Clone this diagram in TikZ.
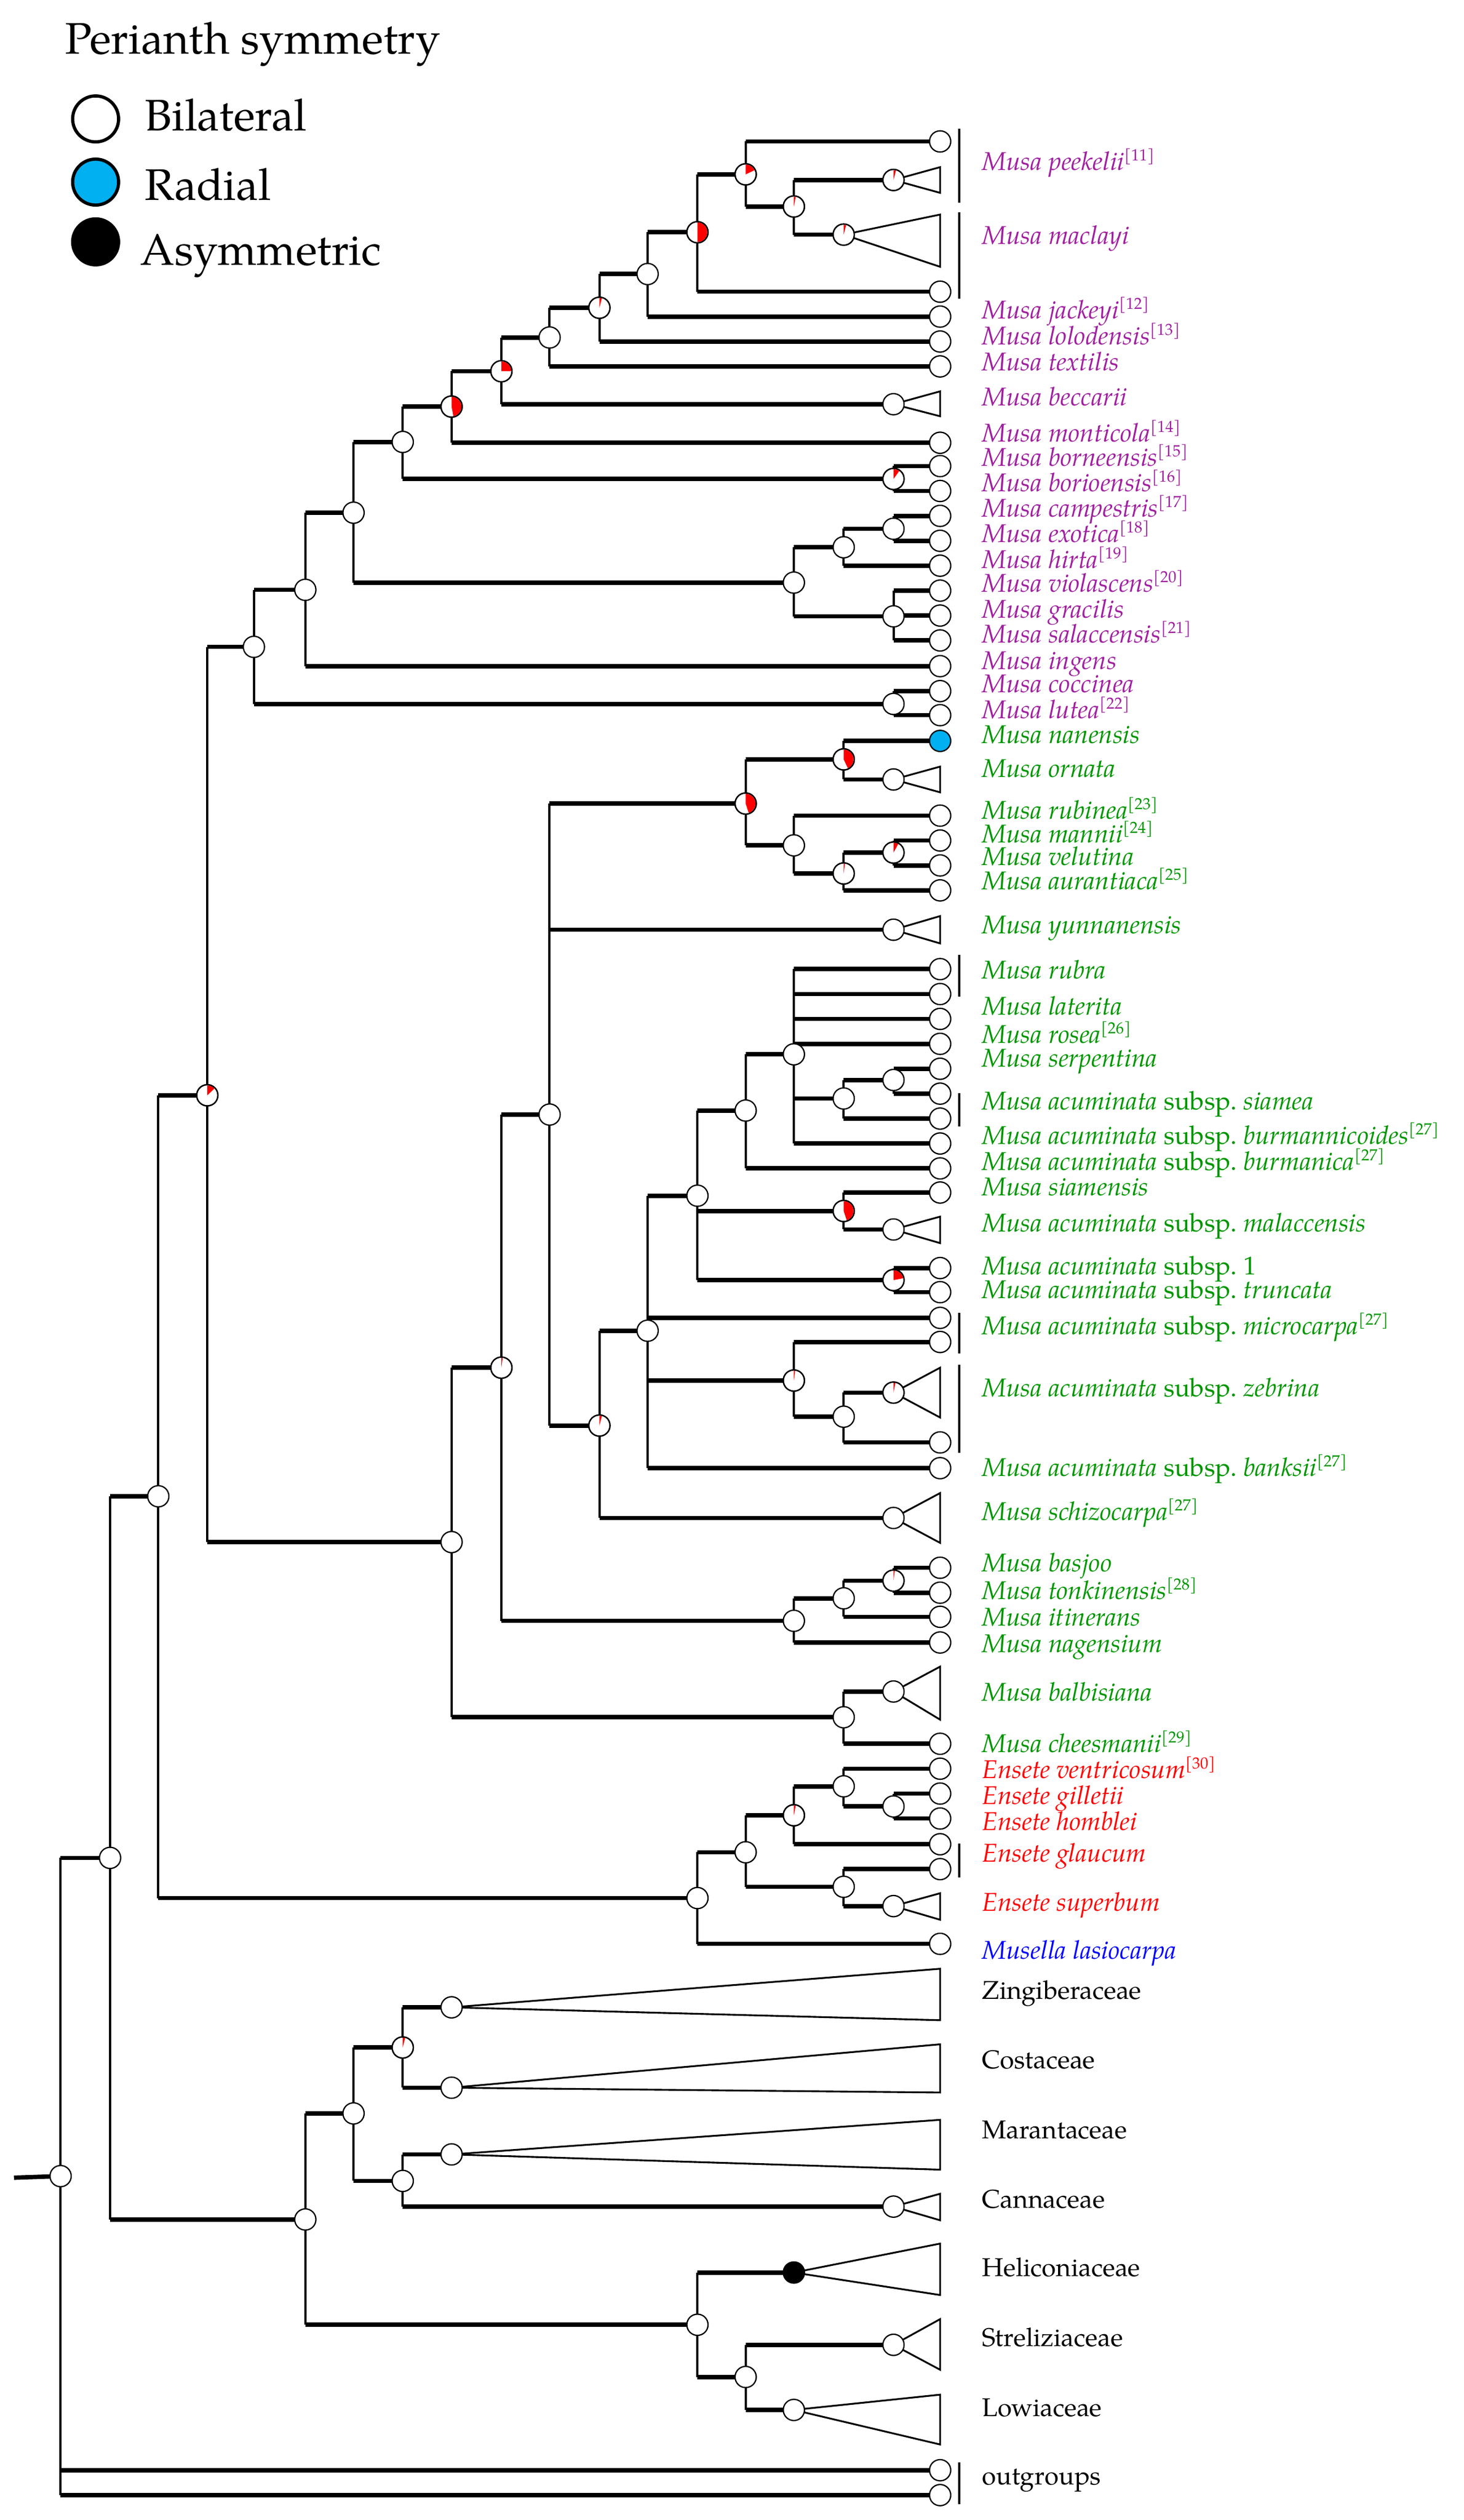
\documentclass[tikz,border=0pt]{standalone}
\usepackage{fontspec}
\setmainfont{TeX Gyre Pagella}
\definecolor{cpurp}{RGB}{160,32,160}
\definecolor{cgreen}{RGB}{0,150,0}
\definecolor{cred}{RGB}{255,0,0}
\definecolor{cblue}{RGB}{0,0,255}
\definecolor{ccyan}{RGB}{0,176,240}
\pgfdeclarelayer{edges}
\pgfsetlayers{edges,main}
\newcommand\labfont{\fontsize{16}{16}\selectfont}
\newcommand\legfont{\fontsize{27.5}{27.5}\selectfont}
\newcommand\MAc{\textit{Musa acuminata} subsp.\ }
\newcommand\srf[1]{\raisebox{6pt}{\fontsize{10}{10}\selectfont[#1]}}
\newcommand\mknode[3]{\node[nd] (#1) at (#2,#3) {};}
\newcommand\mkpie[4]{\node[nd] (#1) at (#2,#3) {};\fill[cred] (#1.center) -- ++(-90:6.1) arc[start angle=-90,end angle={-90+360*#4},radius=6.1] -- cycle;\draw[line width=0.8] (#1.center) circle[radius=6.6];}
\newcommand\mkedge[2]{\draw[vb] (#1.center) -- (#1.center |- #2.center);\draw[hb] (#1.center |- #2.center) -- (#2.center);}
\newcommand\mktri[3]{\coordinate (#1-a) at (585,#2);\coordinate (#1-b) at (585,#3);\draw[trl] (#1.center) -- (#1-a) -- (#1-b) -- cycle;}
\newcommand\mkbrk[3]{\coordinate (#1-t) at (597,#2);\coordinate (#1-u) at (597,#3);\draw[brl] (#1-t) -- (#1-u);}
\tikzset{
 nd/.style={circle,draw=black,line width=0.8,fill=white,minimum size=13.2,inner sep=0},
 hb/.style={line width=2.7},
 vb/.style={line width=1.4},
 trl/.style={line width=1.1,line join=miter},
 brl/.style={line width=1.5},
 lab/.style={anchor=base west,inner sep=0,font=\labfont},
 legc/.style={circle,draw=black,line width=2,minimum size=28.6,inner sep=0},
 legt/.style={anchor=base west,inner sep=0,font=\legfont},
}
\begin{document}
\begin{tikzpicture}[x=1pt,y=-1pt]
\useasboundingbox (0,0) rectangle (911,1568);
% legend
\node[legt] (legtitle) at (40.5,33.4) {Perianth symmetry};
\node[legc,fill=white] (legbi) at (59.5,74) {};
\node[legc,fill=ccyan] (legra) at (59.5,113.3) {};
\node[legc,fill=black] (legas) at (59.5,150.5) {};
\node[legt] (legbit) at (90,81.4) {Bilateral};
\node[legt] (legrat) at (90,124.7) {Radial};
\node[legt] (legast) at (87,165.1) {Asymmetric};
% tips
\mknode{pk1}{585}{88}
\mkpie{pkT}{556}{112}{0.04}
\mkpie{mcT}{525}{146}{0.04}
\mknode{pk4}{585}{181.5}
\mknode{jac}{585}{197}
\mknode{lol}{585}{212.5}
\mknode{tex}{585}{228}
\mknode{becT}{556}{251.5}
\mknode{mon}{585}{275.5}
\mknode{bor}{585}{290}
\mknode{bio}{585}{305.5}
\mknode{cam}{585}{321}
\mknode{exo}{585}{336.5}
\mknode{hir}{585}{352}
\mknode{vio}{585}{367.5}
\mknode{gra}{585}{383}
\mknode{sal}{585}{398.5}
\mknode{ing}{585}{414.5}
\mknode{coc}{585}{430}
\mknode{lut}{585}{445}
\node[nd,fill=ccyan] (nan) at (585,461) {};
\mknode{ornT}{556}{485}
\mknode{rub}{585}{507.5}
\mknode{man}{585}{523}
\mknode{vel}{585}{538.5}
\mknode{aur}{585}{554}
\mknode{yunT}{556}{578.5}
\mknode{ru1}{585}{603}
\mknode{ru2}{585}{618.5}
\mknode{lat}{585}{634}
\mknode{ros}{585}{649.5}
\mknode{ser}{585}{665}
\mknode{sia1}{585}{680.5}
\mknode{sia2}{585}{696}
\mknode{bmc}{585}{711.5}
\mknode{bmn}{585}{727}
\mknode{sms}{585}{742}
\mknode{malT}{556}{765}
\mknode{ss1}{585}{789}
\mknode{tru}{585}{804}
\mknode{mic1}{585}{820}
\mknode{mic2}{585}{835}
\mkpie{zebT}{556}{866.5}{0.03}
\mknode{zeb2}{585}{897.5}
\mknode{ban}{585}{913.5}
\mknode{schT}{556}{944.5}
\mknode{bas}{585}{975.5}
\mknode{ton}{585}{991}
\mknode{iti}{585}{1006}
\mknode{nag}{585}{1022}
\mknode{balT}{556}{1052.5}
\mknode{che}{585}{1085}
\mknode{ven}{585}{1100.5}
\mknode{gil}{585}{1116}
\mknode{hom}{585}{1131.5}
\mknode{gl1}{585}{1147.5}
\mknode{gl2}{585}{1163}
\mknode{supT}{556}{1186}
\mknode{mus}{585}{1209.5}
\mknode{zinT}{281}{1249}
\mknode{cosT}{281}{1299}
\mknode{marT}{281}{1340.5}
\mknode{canT}{556}{1373}
\node[nd,fill=black] (helT) at (494,1414) {};
\mknode{strT}{556}{1459}
\mknode{lowT}{494}{1499.5}
\mknode{og1}{585}{1537}
\mknode{og2}{585}{1552.5}
% internal nodes
\mkpie{A1}{464}{108.5}{0.18}
\mkpie{A2}{494}{128.5}{0.03}
\mkpie{A3}{434}{144.5}{0.5}
\mknode{A4}{403}{170.5}
\mkpie{A5}{373}{191.5}{0.04}
\mknode{A6}{342}{210}
\mkpie{A7}{312}{231}{0.25}
\mkpie{A8}{281}{253}{0.47}
\mknode{A9}{250.6}{275}
\mkpie{B1}{556}{298}{0.1}
\mknode{A10}{220}{319}
\mknode{C1}{494}{362.5}
\mknode{C2}{525}{340.5}
\mknode{C3}{556}{329}
\mknode{C4}{556}{383.5}
\mknode{A11}{190}{367}
\mknode{A12}{158}{402.5}
\mknode{D1}{556}{438}
\mkpie{E1}{525}{472.5}{0.43}
\mkpie{E2}{464}{500}{0.45}
\mknode{E3}{494}{526}
\mkpie{E4}{525}{543.5}{0.02}
\mkpie{E5}{556}{530.5}{0.08}
\mknode{F1}{494}{656}
\mknode{F2}{525}{683.5}
\mknode{F3}{556}{672}
\mknode{F4}{464}{691}
\mkpie{F5}{525}{753.5}{0.45}
\mkpie{F6}{556}{796.5}{0.22}
\mknode{F7}{434}{744}
\mknode{G1}{403}{828}
\mkpie{G2}{494}{859}{0.02}
\mknode{G3}{525}{881.5}
\mkpie{H1}{373}{887}{0.04}
\mknode{H2}{342}{693.5}
\mkpie{I1}{556}{983.5}{0.02}
\mknode{I2}{525}{994.5}
\mknode{I3}{494}{1008.5}
\mkpie{H3}{312}{851}{0.02}
\mknode{J1}{525}{1068.5}
\mknode{H4}{281}{959.5}
\mkpie{K1}{129}{681.5}{0.13}
\mknode{L1}{556}{1124}
\mknode{L2}{525}{1111.5}
\mkpie{L3}{494}{1129.5}{0.03}
\mknode{L4}{525}{1174}
\mknode{L5}{464}{1152.5}
\mknode{L6}{434}{1181}
\mknode{M1}{98.5}{931}
\mkpie{N1}{250.6}{1274}{0.04}
\mknode{N2}{250.6}{1357}
\mknode{N3}{220}{1315}
\mknode{N4}{464}{1479}
\mknode{N5}{434}{1446.5}
\mknode{N6}{190}{1381}
\mknode{O1}{68.5}{1156}
\mknode{R}{37.7}{1354}
\coordinate (stub) at (8.7,1355);
% edges, triangles, brackets
\begin{pgfonlayer}{edges}
\draw[hb] (stub) -- (R.center);
\mkedge{A1}{pk1}\mkedge{A1}{A2}\mkedge{A2}{pkT}\mkedge{A2}{mcT}
\mkedge{A3}{A1}\mkedge{A3}{pk4}\mkedge{A4}{A3}\mkedge{A4}{jac}
\mkedge{A5}{A4}\mkedge{A5}{lol}\mkedge{A6}{A5}\mkedge{A6}{tex}
\mkedge{A7}{A6}\mkedge{A7}{becT}\mkedge{A8}{A7}\mkedge{A8}{mon}
\mkedge{A9}{A8}\mkedge{A9}{B1}\mkedge{B1}{bor}\mkedge{B1}{bio}
\mkedge{A10}{A9}\mkedge{A10}{C1}\mkedge{C1}{C2}\mkedge{C1}{C4}
\mkedge{C2}{C3}\mkedge{C2}{hir}\mkedge{C3}{cam}\mkedge{C3}{exo}
\mkedge{C4}{vio}\mkedge{C4}{gra}\mkedge{C4}{sal}
\mkedge{A11}{A10}\mkedge{A11}{ing}\mkedge{A12}{A11}\mkedge{A12}{D1}
\mkedge{D1}{coc}\mkedge{D1}{lut}
\mkedge{E1}{nan}\mkedge{E1}{ornT}\mkedge{E2}{E1}\mkedge{E2}{E3}
\mkedge{E3}{rub}\mkedge{E3}{E4}\mkedge{E4}{E5}\mkedge{E4}{aur}
\mkedge{E5}{man}\mkedge{E5}{vel}
\mkedge{F1}{ru1}\mkedge{F1}{ru2}\mkedge{F1}{lat}\mkedge{F1}{ros}\mkedge{F1}{F2}\mkedge{F1}{bmc}
\mkedge{F2}{F3}\mkedge{F2}{sia2}\mkedge{F3}{ser}\mkedge{F3}{sia1}
\mkedge{F4}{F1}\mkedge{F4}{bmn}\mkedge{F5}{sms}\mkedge{F5}{malT}
\mkedge{F6}{ss1}\mkedge{F6}{tru}
\mkedge{F7}{F4}\mkedge{F7}{F5}\mkedge{F7}{F6}
\mkedge{G1}{F7}\mkedge{G1}{mic1}\mkedge{G1}{G2}\mkedge{G1}{ban}
\mkedge{G2}{mic2}\mkedge{G2}{G3}\mkedge{G3}{zebT}\mkedge{G3}{zeb2}
\mkedge{H1}{G1}\mkedge{H1}{schT}
\mkedge{H2}{E2}\mkedge{H2}{yunT}\mkedge{H2}{H1}
\mkedge{I1}{bas}\mkedge{I1}{ton}\mkedge{I2}{I1}\mkedge{I2}{iti}
\mkedge{I3}{I2}\mkedge{I3}{nag}
\mkedge{H3}{H2}\mkedge{H3}{I3}
\mkedge{J1}{balT}\mkedge{J1}{che}
\mkedge{H4}{H3}\mkedge{H4}{J1}
\mkedge{K1}{A12}\mkedge{K1}{H4}
\mkedge{L1}{gil}\mkedge{L1}{hom}\mkedge{L2}{ven}\mkedge{L2}{L1}
\mkedge{L3}{L2}\mkedge{L3}{gl1}\mkedge{L4}{gl2}\mkedge{L4}{supT}
\mkedge{L5}{L3}\mkedge{L5}{L4}\mkedge{L6}{L5}\mkedge{L6}{mus}
\mkedge{M1}{K1}\mkedge{M1}{L6}
\mkedge{N1}{zinT}\mkedge{N1}{cosT}\mkedge{N2}{marT}\mkedge{N2}{canT}
\mkedge{N3}{N1}\mkedge{N3}{N2}\mkedge{N4}{strT}\mkedge{N4}{lowT}
\mkedge{N5}{helT}\mkedge{N5}{N4}\mkedge{N6}{N3}\mkedge{N6}{N5}
\mkedge{O1}{M1}\mkedge{O1}{N6}
\mkedge{R}{O1}\mkedge{R}{og1}\mkedge{R}{og2}
\mktri{pkT}{104}{120}
\mktri{mcT}{133.5}{166}
\mktri{becT}{243.5}{259}
\mktri{ornT}{477}{493}
\mktri{yunT}{570}{587}
\mktri{malT}{757}{773.5}
\mktri{zebT}{851}{882}
\mktri{schT}{929}{960}
\mktri{balT}{1037}{1070}
\mktri{supT}{1178}{1194.5}
\mktri{zinT}{1225}{1257}
\mktri{cosT}{1272}{1302}
\mktri{marT}{1319}{1350}
\mktri{canT}{1365}{1381.5}
\mktri{helT}{1396}{1428}
\mktri{strT}{1443}{1474.5}
\mktri{lowT}{1490}{1521}
\end{pgfonlayer}
\mkbrk{bk1}{80}{126}
\mkbrk{bk2}{132}{186}
\mkbrk{bk3}{594}{620}
\mkbrk{bk4}{680}{701}
\mkbrk{bk5}{817}{842}
\mkbrk{bk6}{849}{904}
\mkbrk{bk7}{1147}{1168}
\mkbrk{bk8}{1532}{1558}
% labels
\begin{scope}[every node/.append style={lab,text=cpurp}]
\node (lpk) at (611,106) {\textit{Musa peekelii}\srf{11}};
\node (lmc) at (611,152) {\textit{Musa maclayi}};
\node (ljac) at (611,198.5) {\textit{Musa jackeyi}\srf{12}};
\node (llol) at (611,214.5) {\textit{Musa lolodensis}\srf{13}};
\node (ltex) at (611,230.5) {\textit{Musa textilis}};
\node (lbec) at (611,252.5) {\textit{Musa beccarii}};
\node (lmon) at (611,275) {\textit{Musa monticola}\srf{14}};
\node (lbor) at (611,290) {\textit{Musa borneensis}\srf{15}};
\node (lbio) at (611,306) {\textit{Musa borioensis}\srf{16}};
\node (lcam) at (611,321.5) {\textit{Musa campestris}\srf{17}};
\node (lexo) at (611,337.5) {\textit{Musa exotica}\srf{18}};
\node (lhir) at (611,353.5) {\textit{Musa hirta}\srf{19}};
\node (lvio) at (611,368.5) {\textit{Musa violascens}\srf{20}};
\node (lgra) at (611,384.5) {\textit{Musa gracilis}};
\node (lsal) at (611,400) {\textit{Musa salaccensis}\srf{21}};
\node (ling) at (611,416.5) {\textit{Musa ingens}};
\node (lcoc) at (611,431) {\textit{Musa coccinea}};
\node (llut) at (611,447) {\textit{Musa lutea}\srf{22}};
\end{scope}
\begin{scope}[every node/.append style={lab,text=cgreen}]
\node (lnan) at (611,462.5) {\textit{Musa nanensis}};
\node (lorn) at (611,483.5) {\textit{Musa ornata}};
\node (lrub) at (611,509.5) {\textit{Musa rubinea}\srf{23}};
\node (lman) at (611,524.5) {\textit{Musa mannii}\srf{24}};
\node (lvel) at (611,538.5) {\textit{Musa velutina}};
\node (laur) at (611,553.5) {\textit{Musa aurantiaca}\srf{25}};
\node (lyun) at (611,581) {\textit{Musa yunnanensis}};
\node (lrubra) at (611,609) {\textit{Musa rubra}};
\node (llat) at (611,631.5) {\textit{Musa laterita}};
\node (lros) at (611,649) {\textit{Musa rosea}\srf{26}};
\node (lser) at (611,664) {\textit{Musa serpentina}};
\node (lsia) at (611,690.5) {\MAc\textit{siamea}};
\node (lbmc) at (611,712) {\MAc\textit{burmannicoides}\srf{27}};
\node (lbmn) at (611,728) {\MAc\textit{burmanica}\srf{27}};
\node (lsms) at (611,744) {\textit{Musa siamensis}};
\node (lmal) at (611,766.5) {\MAc\textit{malaccensis}};
\node (lss1) at (611,793) {\MAc 1};
\node (ltru) at (611,808) {\MAc\textit{truncata}};
\node (lmic) at (611,830.5) {\MAc\textit{microcarpa}\srf{27}};
\node (lzeb) at (611,869) {\MAc\textit{zebrina}};
\node (lban) at (611,918.5) {\MAc\textit{banksii}\srf{27}};
\node (lsch) at (611,946) {\textit{Musa schizocarpa}\srf{27}};
\node (lbas) at (611,978) {\textit{Musa basjoo}};
\node (lton) at (611,995) {\textit{Musa tonkinensis}\srf{28}};
\node (liti) at (611,1011.5) {\textit{Musa itinerans}};
\node (lnag) at (611,1028) {\textit{Musa nagensium}};
\node (lbal) at (611,1058.5) {\textit{Musa balbisiana}};
\node (lche) at (611,1090.5) {\textit{Musa cheesmanii}\srf{29}};
\end{scope}
\begin{scope}[every node/.append style={lab,text=cred}]
\node (lven) at (611,1106.5) {\textit{Ensete ventricosum}\srf{30}};
\node (lgil) at (611,1122.5) {\textit{Ensete gilletii}};
\node (lhom) at (611,1139) {\textit{Ensete homblei}};
\node (lgla) at (611,1158.5) {\textit{Ensete glaucum}};
\node (lsup) at (611,1189) {\textit{Ensete superbum}};
\end{scope}
\node[lab,text=cblue] (lmus) at (611,1219) {\textit{Musella lasiocarpa}};
\begin{scope}[every node/.append style={lab,text=black}]
\node (lzin) at (611,1244) {Zingiberaceae};
\node (lcos) at (611,1287) {Costaceae};
\node (lmar) at (611,1330.5) {Marantaceae};
\node (lcan) at (611,1374) {Cannaceae};
\node (lhel) at (611,1416.5) {Heliconiaceae};
\node (lstr) at (611,1460) {Streliziaceae};
\node (llow) at (611,1503.5) {Lowiaceae};
\node (logr) at (611,1546) {outgroups};
\end{scope}
\end{tikzpicture}
\end{document}
